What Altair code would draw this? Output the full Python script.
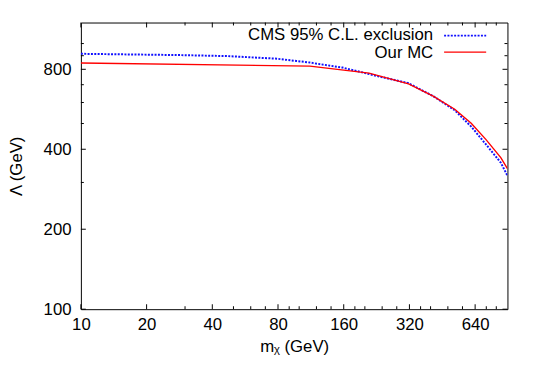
import altair as alt
import pandas as pd

# ---- data ----
mc_mass = [10, 112, 209, 317, 411, 516, 614, 718, 839, 900]
mc_lambda = [845, 822, 774, 705, 634, 566, 501, 435, 372, 338]

cms_mass = [10, 28, 47, 79, 97, 112, 158, 224, 317, 411, 516, 614, 718, 839, 900]
cms_lambda = [915, 905, 897, 877, 860, 848, 812, 757, 709, 634, 561, 487, 417, 356, 318]

x_major = [10, 20, 40, 80, 160, 320, 640]
x_minor = [30, 50, 60, 70, 90, 100, 120, 140, 180, 200, 240, 280, 360, 400, 480, 560, 720, 800]
y_major = [100, 200, 400, 800]
y_minor = [300, 500, 600, 700, 900, 1000]

legend_labels = ["CMS 95% C.L. exclusion", "Our MC"]

W, H = 433, 291
FONT = "Liberation Sans"
FS = 17

x_scale = alt.Scale(type="log", base=2, domain=[10, 900], nice=False)
y_scale = alt.Scale(type="log", base=2, domain=[100, 1200], nice=False)

x_axis = alt.Axis(values=x_major, format="d", ticks=False, domain=False, grid=False,
                  labelFlush=False, labelPadding=8, labelFontSize=FS, labelFont=FONT,
                  labelColor="black", title="m\u1d6a (GeV)", titleFont=FONT,
                  titleFontSize=FS, titleFontWeight="normal", titleColor="black",
                  titlePadding=6)
y_axis = alt.Axis(values=y_major, format="d", ticks=False, domain=False, grid=False,
                  labelFlush=False, labelPadding=10, labelFontSize=FS, labelFont=FONT,
                  labelColor="black", title="\u039b (GeV)", titleFont=FONT,
                  titleFontSize=FS, titleFontWeight="normal", titleColor="black",
                  titlePadding=18)

X = lambda: alt.X("mass:Q", scale=x_scale, axis=x_axis)
Y = lambda: alt.Y("lam:Q", scale=y_scale, axis=y_axis)

cms_df = pd.DataFrame({"mass": cms_mass, "lam": cms_lambda})
mc_df = pd.DataFrame({"mass": mc_mass, "lam": mc_lambda})

cms_line = alt.Chart(cms_df).mark_line(color="#1010ff", strokeWidth=2,
                                        strokeDash=[2, 1.4], clip=True).encode(x=X(), y=Y())
mc_line = alt.Chart(mc_df).mark_line(color="#ff0000", strokeWidth=1.4,
                                      clip=True).encode(x=X(), y=Y())


def xticks(vals, length):
    df = pd.DataFrame({"mass": vals})
    bottom = alt.Chart(df).mark_rule(color="black", strokeWidth=1).encode(
        x=X(), y=alt.value(H), y2=alt.value(H - length))
    top = alt.Chart(df).mark_rule(color="black", strokeWidth=1).encode(
        x=X(), y=alt.value(0), y2=alt.value(length))
    return [bottom, top]


def yticks(vals, length):
    df = pd.DataFrame({"lam": vals})
    left = alt.Chart(df).mark_rule(color="black", strokeWidth=1).encode(
        y=Y(), x=alt.value(0), x2=alt.value(length))
    right = alt.Chart(df).mark_rule(color="black", strokeWidth=1).encode(
        y=Y(), x=alt.value(W), x2=alt.value(W - length))
    return [left, right]


ticks = xticks(x_major, 5) + xticks(x_minor, 3) + yticks(y_major, 5) + yticks(y_minor, 3)

# legend (gnuplot style: label on the left, sample on the right)
leg1_text = alt.Chart(pd.DataFrame({"t": [legend_labels[0]]})).mark_text(
    align="right", baseline="middle", font=FONT, fontSize=FS, color="black").encode(
    text="t:N", x=alt.value(357.6), y=alt.value(12.8))
leg2_text = alt.Chart(pd.DataFrame({"t": [legend_labels[1]]})).mark_text(
    align="right", baseline="middle", font=FONT, fontSize=FS, color="black").encode(
    text="t:N", x=alt.value(357.6), y=alt.value(31))
leg1_line = alt.Chart(pd.DataFrame({"t": [legend_labels[0]]})).mark_rule(
    color="#1010ff", strokeWidth=2, strokeDash=[2, 1.4]).encode(
    x=alt.value(368.7), x2=alt.value(411.4), y=alt.value(13.3))
leg2_line = alt.Chart(pd.DataFrame({"t": [legend_labels[1]]})).mark_rule(
    color="#ff0000", strokeWidth=1.4).encode(
    x=alt.value(368.7), x2=alt.value(411.4), y=alt.value(30))

chart = alt.layer(
    cms_line, mc_line, *ticks, leg1_text, leg2_text, leg1_line, leg2_line
).properties(
    width=W, height=H, autosize="none",
    padding={"left": 74, "top": 12, "right": 30, "bottom": 60},
    background="white",
).configure_view(stroke="black", strokeWidth=1)

chart.save("out.html", embed_options={"renderer": "svg", "actions": False})
